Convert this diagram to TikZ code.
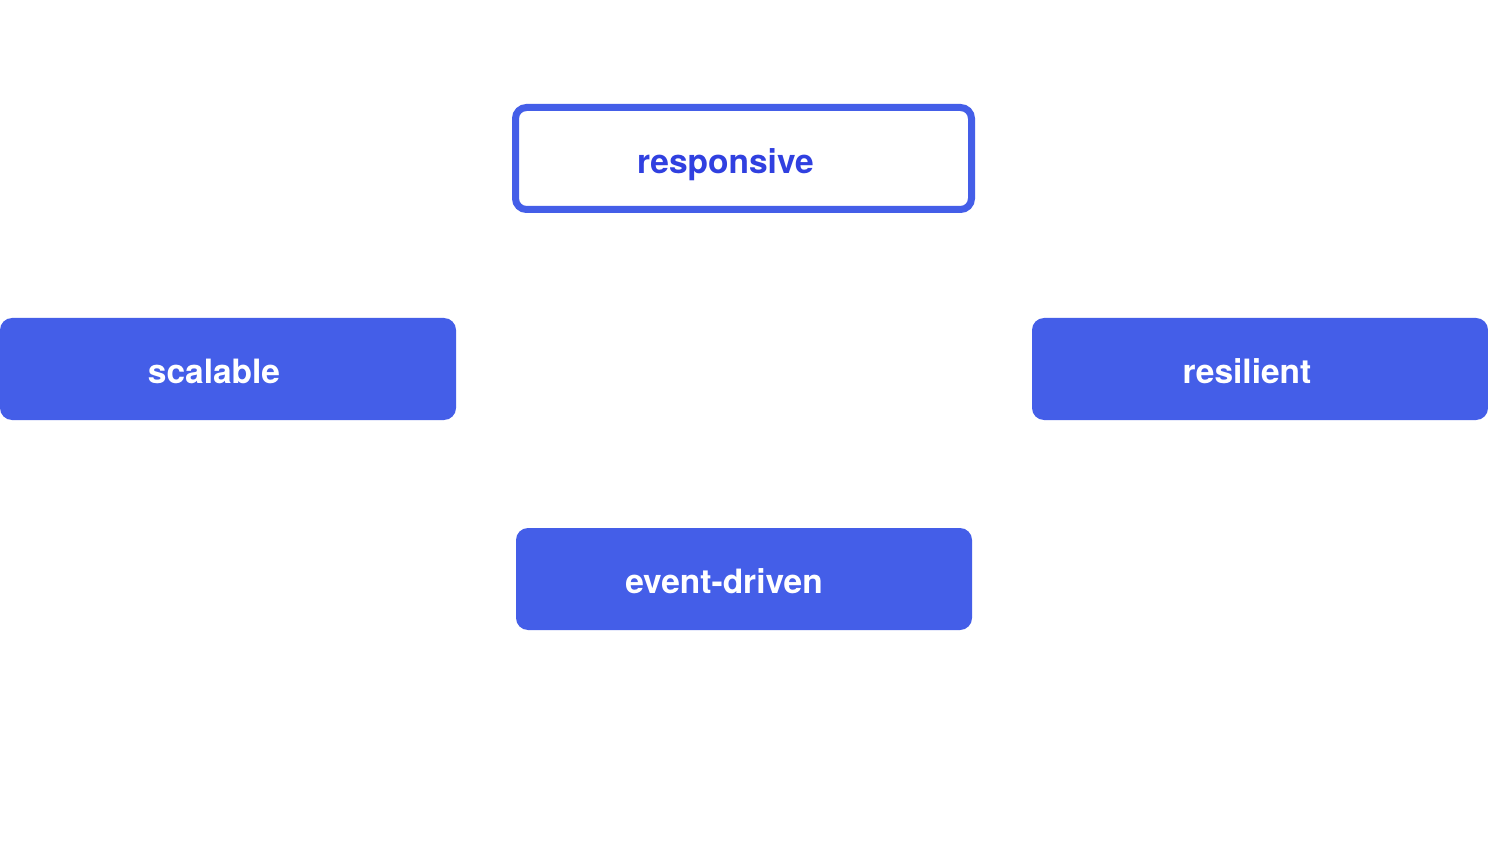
\documentclass[tikz,border=0pt]{standalone}
\usepackage{fontspec}
\setmainfont{TeX Gyre Heros}
\definecolor{boxblue}{HTML}{445EE8}
\definecolor{txtblue}{HTML}{3040E0}
\begin{document}
\begin{tikzpicture}[x=1pt,y=-1pt,
  filledbox/.style={draw=none,fill=boxblue,rounded corners=12pt},
  outlinebox/.style={draw=boxblue,line width=7pt,fill=white,rounded corners=11pt},
  lbl/.style={anchor=base,inner sep=0pt,font=\fontsize{33.5}{36}\selectfont\bfseries}]
\useasboundingbox (0,0) rectangle (1488,858);
\fill[white] (0,0) rectangle (1488,858);
\draw[outlinebox] (515.5,107.5) rectangle (971.5,209.5);
\node[lbl,text=txtblue] (responsive) at (725.5,174) {responsive};
\fill[filledbox] (0,318) rectangle (456,420);
\node[lbl,text=white] (scalable) at (214,383) {scalable};
\fill[filledbox] (1032,318) rectangle (1488,420);
\node[lbl,text=white] (resilient) at (1247,383) {resilient};
\fill[filledbox] (516,528) rectangle (972,630);
\node[lbl,text=white] (eventdriven) at (724,593) {event-driven};
\end{tikzpicture}
\end{document}
